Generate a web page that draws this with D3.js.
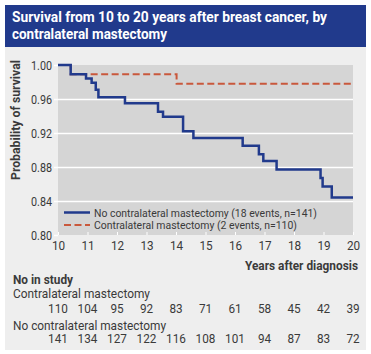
<!DOCTYPE html>
<html lang="en">
<head>
<meta charset="UTF-8">
<title>survival curves</title>
<script src="https://d3js.org/d3.v7.min.js"></script>
<style>
  body { margin: 0; background: #fff; }
  text { font-family: "Roboto", "Noto Sans", sans-serif; }
</style>
</head>
<body>
<svg></svg>
<script>
// data
const years = [10, 11, 12, 13, 14, 15, 16, 17, 18, 19, 20];
const yTicks = [0.80, 0.84, 0.88, 0.92, 0.96, 1.00];

const noCmTimes = [10, 10.43, 10.95, 11.14, 11.28, 11.37, 12.27, 13.39, 13.56, 14.24, 14.59, 16.26, 16.81, 16.96, 17.41, 18.9, 18.97, 19.28, 20];
const noCmSurv  = [1.0, 0.989, 0.984, 0.979, 0.971, 0.962, 0.955, 0.945, 0.939, 0.922, 0.914, 0.905, 0.895, 0.887, 0.877, 0.867, 0.857, 0.844, 0.844];

const cmTimes = [10, 10.43, 14.02, 20];
const cmSurv  = [1.0, 0.989, 0.978, 0.978];

const cmAtRisk   = [110, 104, 95, 92, 83, 71, 61, 58, 45, 42, 39];
const noCmAtRisk = [141, 134, 127, 122, 116, 108, 101, 94, 87, 83, 72];

const W = 371, H = 354;
const svg = d3.select("svg").attr("width", W).attr("height", H);

const blue = "#213a8c", red = "#c9583c", ink = "#3a3a3a";

// the original face is a condensed one, so squeeze text to the widths seen
function fit(sel, w) {
  sel.attr("textLength", w).attr("lengthAdjust", "spacingAndGlyphs");
  return sel;
}
const digitW = 6.6;

// panel + title banner
svg.append("rect").attr("x", 5).attr("y", 5).attr("width", 361).attr("height", 345).attr("fill", "#eeeeee");
svg.append("rect").attr("x", 5).attr("y", 5).attr("width", 361).attr("height", 42).attr("fill", blue);
fit(svg.append("text").attr("x", 12).attr("y", 22).attr("fill", "#fff")
    .attr("font-weight", "bold").attr("font-size", 14.5)
    .text("Survival from 10 to 20 years after breast cancer, by"), 315);
fit(svg.append("text").attr("x", 12).attr("y", 38.5).attr("fill", "#fff")
    .attr("font-weight", "bold").attr("font-size", 14.5)
    .text("contralateral mastectomy"), 155);

const x = d3.scaleLinear().domain([10, 20]).range([58, 353]);
const y = d3.scaleLinear().domain([0.80, 1.00]).range([235, 65]);

// plot area
svg.append("rect").attr("x", x(10)).attr("y", y(1)).attr("width", x(20) - x(10)).attr("height", y(0.8) - y(1))
    .attr("fill", "#d5d5d5");

// y axis with white grid
const yAxis = svg.append("g").attr("transform", `translate(${x(10)},0)`)
    .call(d3.axisLeft(y).tickValues(yTicks).tickFormat(d3.format(".2f")).tickSize(4).tickPadding(2));
yAxis.select(".domain").remove();
yAxis.selectAll(".tick line").attr("stroke", "#fff").attr("stroke-width", 1.5)
    .attr("x1", -4).attr("x2", d => (d === 1 || d === 0.8) ? 0 : x(20) - x(10));
yAxis.selectAll(".tick text").attr("font-size", 13).attr("fill", ink)
    .attr("textLength", 21).attr("lengthAdjust", "spacingAndGlyphs");

// x axis
const xAxis = svg.append("g").attr("transform", `translate(0,${y(0.8)})`)
    .call(d3.axisBottom(x).tickValues(years).tickFormat(d3.format("d")).tickSize(0).tickPadding(6));
xAxis.select(".domain").remove();
xAxis.selectAll(".tick line").attr("stroke", "#fff").attr("y1", 0).attr("y2", -3);
xAxis.selectAll(".tick text").attr("font-size", 13).attr("fill", ink)
    .attr("textLength", d => String(d).length * digitW).attr("lengthAdjust", "spacingAndGlyphs");

fit(svg.append("text").attr("transform", "translate(20,120) rotate(-90)")
    .attr("text-anchor", "middle").attr("font-weight", "bold").attr("font-size", 12.5).attr("fill", ink)
    .text("Probability of survival"), 120);

fit(svg.append("text").attr("x", 245).attr("y", 270)
    .attr("font-weight", "bold").attr("font-size", 12.5).attr("fill", ink)
    .text("Years after diagnosis"), 113);

// curves
const line = d3.line().curve(d3.curveStepAfter).x(d => x(d[0])).y(d => y(d[1]));
svg.append("path").datum(d3.zip(cmTimes, cmSurv)).attr("d", line)
    .attr("fill", "none").attr("stroke", red).attr("stroke-width", 2).attr("stroke-dasharray", "7,3.5");
svg.append("path").datum(d3.zip(noCmTimes, noCmSurv)).attr("d", line)
    .attr("fill", "none").attr("stroke", blue).attr("stroke-width", 2.5);

// legend
const legend = [
  {label: "No contralateral mastectomy (18 events, n=141)", color: blue, dash: null, w: 2.5, len: 223},
  {label: "Contralateral mastectomy (2 events, n=110)", color: red, dash: "7,3.5", w: 2, len: 203}
];
legend.forEach((d, i) => {
  const ly = 212.5 + i * 12.5;
  svg.append("line").attr("x1", 64).attr("x2", 90).attr("y1", ly).attr("y2", ly)
      .attr("stroke", d.color).attr("stroke-width", d.w).attr("stroke-dasharray", d.dash);
  fit(svg.append("text").attr("x", 94).attr("y", ly + 4).attr("font-size", 11.5).attr("fill", ink).text(d.label), d.len);
});

// numbers at risk
fit(svg.append("text").attr("x", 13).attr("y", 284).attr("font-weight", "bold").attr("font-size", 12.5)
    .attr("fill", ink).text("No in study"), 60);
fit(svg.append("text").attr("x", 13).attr("y", 297.5).attr("font-size", 13).attr("fill", ink)
    .text("Contralateral mastectomy"), 137);
fit(svg.append("text").attr("x", 13).attr("y", 329.5).attr("font-size", 13).attr("fill", ink)
    .text("No contralateral mastectomy"), 153);

svg.append("g").selectAll("text").data(cmAtRisk).join("text")
    .attr("x", (d, i) => x(years[i])).attr("y", 312.5).attr("text-anchor", "middle")
    .attr("font-size", 13).attr("fill", ink)
    .attr("textLength", d => String(d).length * digitW).attr("lengthAdjust", "spacingAndGlyphs")
    .text(d => d);
svg.append("g").selectAll("text").data(noCmAtRisk).join("text")
    .attr("x", (d, i) => x(years[i])).attr("y", 343).attr("text-anchor", "middle")
    .attr("font-size", 13).attr("fill", ink)
    .attr("textLength", d => String(d).length * digitW).attr("lengthAdjust", "spacingAndGlyphs")
    .text(d => d);
</script>
</body>
</html>
